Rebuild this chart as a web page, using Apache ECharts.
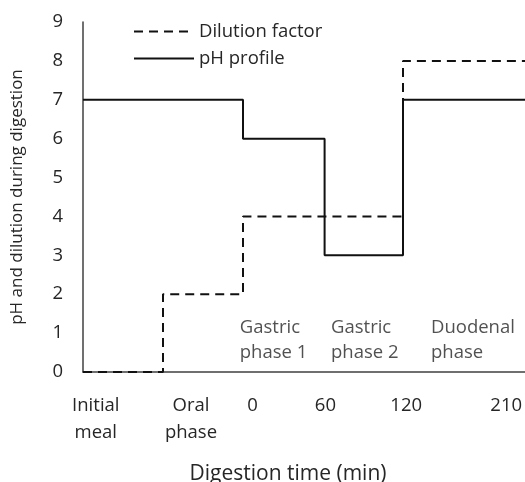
<!DOCTYPE html>
<html>
<head>
<meta charset="utf-8">
<script src="https://cdn.jsdelivr.net/npm/echarts@6/dist/echarts.min.js"></script>
<style>
  html, body { margin: 0; padding: 0; background: #fff; }
  #chart { width: 525px; height: 482px; }
</style>
</head>
<body>
<div id="chart"></div>
<script>
// x positions are in "phase units" along the axis
const xMax = 5.525

// tick labels under the axis and where they sit
const tickLabels = ['Initial\nmeal', 'Oral\nphase', '0', '60', '120', '210']
const tickPositions = [0.16, 1.35, 2.12, 3.03, 4.04, 5.29]

// step series (value holds until the next x)
const dilutionX = [0, 1, 2, 4, xMax]
const dilutionY = [0, 2, 4, 8, 8]
const phX = [0, 2, 3.02, 4, xMax]
const phY = [7, 6, 3, 7, 7]

// phase annotations inside the plot
const phaseLabels = ['Gastric\nphase 1', 'Gastric\nphase 2', 'Duodenal\nphase']
const phaseX = [1.96, 3.1, 4.35]
const phaseY = [0.81, 0.81, 0.81]

const font = 'Open Sans'
const fs = 18.5
const textColor = '#262626'
const lineColor = '#111'

const zip = (xs, ys) => xs.map((x, i) => [x, ys[i]])

const chart = echarts.init(document.getElementById('chart'))

const option = {
  animation: false,
  textStyle: { fontFamily: font, color: textColor },
  grid: { left: 83, right: 0, top: 22, bottom: 110, outerBoundsMode: 'none' },
  legend: {
    orient: 'vertical',
    left: 133,
    top: 22,
    padding: 0,
    itemWidth: 60,
    itemHeight: 14,
    itemGap: 8,
    itemStyle: { opacity: 0 },
    textStyle: { fontFamily: font, fontSize: fs, color: textColor },
    data: ['Dilution factor', 'pH profile']
  },
  xAxis: {
    type: 'value',
    min: 0,
    max: xMax,
    name: 'Digestion time (min)',
    nameLocation: 'middle',
    nameGap: 92,
    nameTextStyle: { fontFamily: font, fontSize: 21, color: textColor, padding: [0, 32, 0, 0] },
    splitLine: { show: false },
    axisTick: { show: false },
    axisLine: { lineStyle: { color: '#404040', width: 1.5 } },
    axisLabel: {
      customValues: tickPositions,
      fontFamily: font,
      fontSize: fs,
      color: textColor,
      lineHeight: 27,
      margin: 20,
      formatter: (v) => {
        let best = 0
        tickPositions.forEach((p, i) => {
          if (Math.abs(p - v) < Math.abs(tickPositions[best] - v)) best = i
        })
        return tickLabels[best]
      }
    }
  },
  yAxis: {
    type: 'value',
    min: 0,
    max: 9,
    interval: 1,
    name: 'pH and dilution during digestion',
    nameLocation: 'middle',
    nameGap: 57,
    nameTextStyle: { fontFamily: font, fontSize: 17, color: textColor },
    splitLine: { show: false },
    axisTick: { show: false },
    axisLine: { show: true, lineStyle: { color: '#404040', width: 1.5 } },
    axisLabel: { fontFamily: font, fontSize: fs, color: textColor, margin: 20 }
  },
  series: [
    {
      name: 'Dilution factor',
      type: 'line',
      step: 'end',
      symbol: 'none',
      data: zip(dilutionX, dilutionY),
      lineStyle: { color: lineColor, width: 2, type: [9, 6] },
      itemStyle: { color: lineColor },
      z: 3
    },
    {
      name: 'pH profile',
      type: 'line',
      step: 'end',
      symbol: 'none',
      data: zip(phX, phY),
      lineStyle: { color: lineColor, width: 2 },
      itemStyle: { color: lineColor },
      z: 3
    },
    {
      type: 'scatter',
      symbolSize: 0,
      silent: true,
      data: zip(phaseX, phaseY),
      label: {
        show: true,
        position: [0, 0],
        align: 'left',
        verticalAlign: 'middle',
        fontFamily: font,
        fontSize: fs,
        lineHeight: 25,
        color: textColor,
        formatter: (p) => phaseLabels[p.dataIndex]
      }
    }
  ]
}

chart.setOption(option)
</script>
</body>
</html>
